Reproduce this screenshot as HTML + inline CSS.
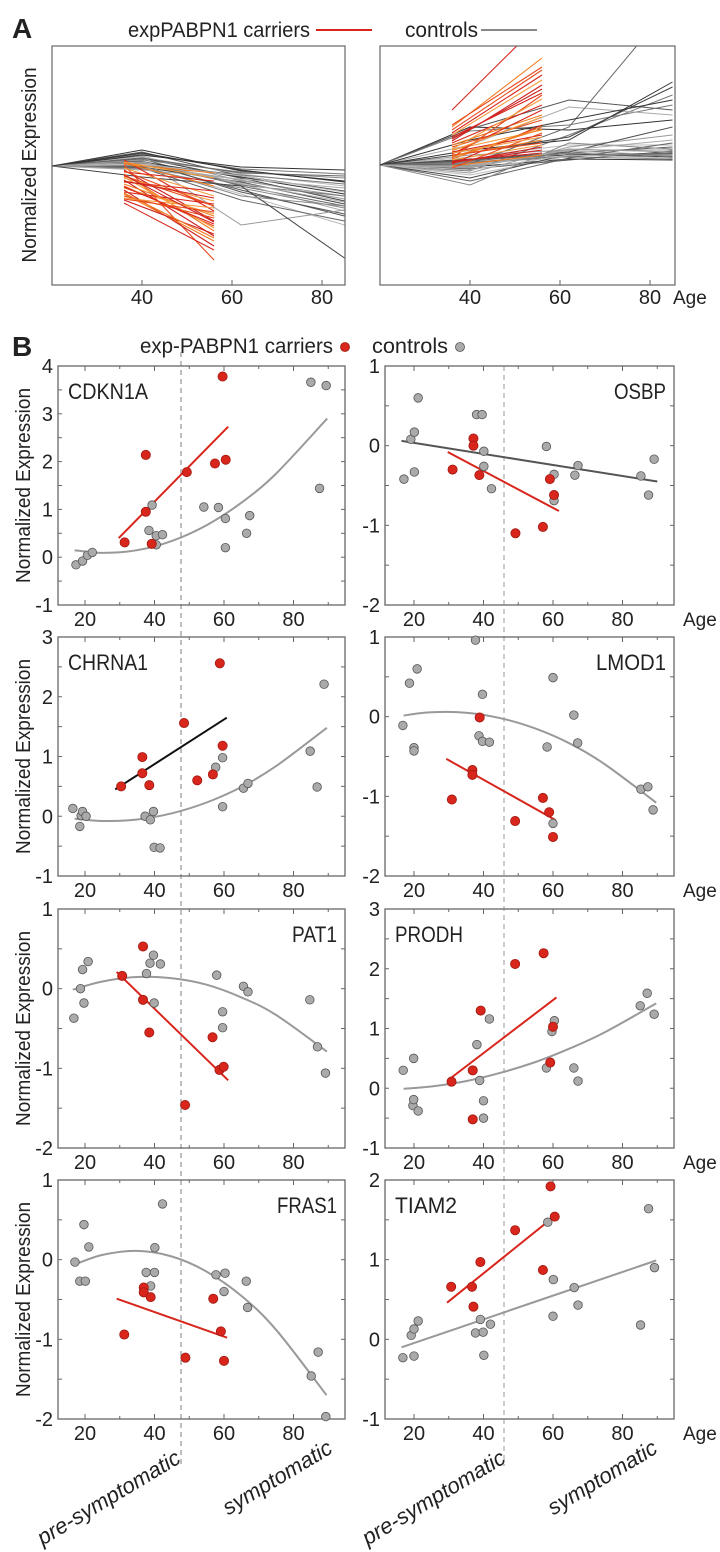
<!DOCTYPE html>
<html><head><meta charset="utf-8"><title>expPABPN1 expression figure</title>
<style>
html,body{margin:0;padding:0;background:#fff;}
svg{display:block;}
text{font-family:"Liberation Sans Narrow","Liberation Sans",sans-serif;fill:#222;}
</style></head>
<body>
<svg id="fig" width="720" height="1552" viewBox="0 0 720 1552" xmlns="http://www.w3.org/2000/svg">
<defs>
<clipPath id="clipAL"><rect x="52" y="46" width="293" height="239"/></clipPath>
<clipPath id="clipAR"><rect x="380" y="46" width="295" height="239"/></clipPath>
</defs>
<text x="12" y="38" font-size="28" font-weight="bold" style="font-family:'Liberation Sans',sans-serif">A</text>
<text x="128" y="37" font-size="21" textLength="182" lengthAdjust="spacingAndGlyphs">expPABPN1 carriers</text>
<line x1="316" y1="30" x2="372" y2="30" stroke="#d8261c" stroke-width="2"/>
<text x="405" y="37" font-size="21" textLength="73" lengthAdjust="spacingAndGlyphs">controls</text>
<line x1="481" y1="30" x2="537" y2="30" stroke="#888" stroke-width="2"/>
<text transform="translate(36,165) rotate(-90)" text-anchor="middle" font-size="20" textLength="195" lengthAdjust="spacingAndGlyphs" style="font-family:'Liberation Sans',sans-serif">Normalized Expression</text>
<text x="12" y="356" font-size="28" font-weight="bold" style="font-family:'Liberation Sans',sans-serif">B</text>
<text x="140" y="353" font-size="21" textLength="193" lengthAdjust="spacingAndGlyphs">exp-PABPN1 carriers</text>
<circle cx="345" cy="347" r="4.5" fill="#d8261c" stroke="#a01810" stroke-width="0.8"/>
<text x="372" y="353" font-size="21" textLength="76" lengthAdjust="spacingAndGlyphs">controls</text>
<circle cx="460" cy="347" r="4.5" fill="#aaa" stroke="#555" stroke-width="0.8"/>
</svg>
<script>
// ---------- Panel A data (expression units; ages) ----------
const aCtrlAges=[20,40,62,85];
const aCarAges=[36,56];
const aLeftCtrl40=[1.6,1.4,1.2,1.0,0.9,0.8,0.7,0.6,0.5,0.4,0.3,0.2,0.1,0,-0.1,-0.2,-0.3,-0.4,1.1,0.5,0.3,0.6,0.2,-1.1,0.8,0.0,0.4,1.3];
const aLeftCtrl62=[-0.5,-1.0,-0.3,-1.5,-0.8,-1.2,-2.0,-0.6,-1.8,-1.1,-2.4,-0.9,-1.4,-2.8,-1.6,-3.4,-2.2,-1.3,-0.1,-2.6,-1.9,-5.9,-1.0,-2.0,-0.7,-3.0,-1.7,-0.4];
const aLeftCtrl85=[-1.5,-2.5,-0.8,-3.0,-2.0,-3.5,-4.0,-1.2,-4.5,-2.8,-5.0,-1.8,-3.3,-5.9,-3.8,-5.5,-4.2,-2.2,-0.4,-4.8,-3.0,-4.4,-2.6,-9.2,-1.0,-4.0,-3.6,-1.6];
const aLeftCar36=[0.6,0.3,0.1,-0.2,-0.4,-0.6,-0.8,-1.0,-1.2,-1.4,-1.6,-1.8,-2.0,-2.2,-2.4,-2.6,-2.8,-3.0,-3.2,-3.4,-3.7,0.2,-0.5,-1.1,-1.5,-2.1,-2.7,-3.3,0.4,-0.9];
const aLeftCar56=[-4.5,-2.0,-9.4,-3.0,-5.5,-1.5,-6.5,-4.0,-3.5,-7.0,-2.5,-5.0,-6.0,-4.8,-8.0,-3.8,-7.5,-5.2,-4.2,-6.8,-8.4,-0.7,-4.0,-6.2,-3.2,-5.8,-7.2,-4.6,-1.2,-5.6];
const aRightCtrl40=[3.8,3.6,3.4,1.0,0.8,0.6,0.4,0.2,0,-0.2,-0.4,-0.6,-0.8,-1.0,-1.3,-1.6,-2.0,2.0,1.5,0.5,0.3,-0.3,-0.5,1.2,0.1,-0.1,-0.2,2.5];
const aRightCtrl62=[3.5,6.5,4.0,1.5,2.0,1.0,1.2,0.8,1.4,0.6,0.5,3.0,1.8,0.9,1.1,0.7,2.2,5.8,2.5,1.3,0.9,1.6,1.0,2.8,3.8,1.2,1.5,4.5];
const aRightCtrl85=[4.5,5.5,6.0,1.5,2.0,1.2,1.8,0.6,1.0,0.5,1.4,7.0,3.0,1.0,0.8,2.2,1.6,5.0,8.3,3.8,1.1,1.3,0.7,7.8,16.2,0.9,2.5,6.5];
const aRightCar36=[5.5,3.8,3.5,3.0,2.6,2.2,2.0,1.8,1.5,1.3,1.1,0.9,0.7,0.5,0.3,0.1,-0.1,-0.3,1.6,2.4,3.2,0.6,1.0,1.4,0.2,2.8,0.8,4.0,1.2,0.4];
const aRightCar56=[14.4,10.7,9.5,8.5,7.6,6.0,5.0,4.5,3.5,3.0,5.5,2.5,7.0,2.0,1.5,4.0,1.0,3.2,6.6,8.0,9.0,3.8,2.2,4.8,1.8,7.2,3.6,9.8,2.8,1.2];
const aXTicks=[40,60,80];

// ---------- Panel B data ----------
const cdkn1aCtrlAge=[17.4,19.3,20.7,22.1,38.4,39.3,40.5,40.5,42.3,54.2,58.4,60.4,60.4,66.5,67.4,85,89.4,87.5];
const cdkn1aCtrlVal=[-0.16,-0.08,0.04,0.10,0.56,1.09,0.45,0.26,0.47,1.05,1.04,0.81,0.20,0.50,0.87,3.66,3.59,1.44];
const cdkn1aCarAge=[31.4,37.5,37.5,39.2,49.3,57.4,60.5,59.6];
const cdkn1aCarVal=[0.31,2.14,0.95,0.28,1.78,1.96,2.04,3.78];
const cdkn1aCarFitAge=[29.7,61.2];
const cdkn1aCarFitVal=[0.40,2.73];
const cdkn1aCtrlFitAge=[17,25,35,45,55,65,75,89.7];
const cdkn1aCtrlFitVal=[0.146,0.09,0.146,0.34,0.67,1.14,1.75,2.90];

const osbpCtrlAge=[17.1,19.1,20.1,20.1,21.2,38,39.6,40.1,40.1,42.3,58.1,60.3,60.3,66.3,67.2,85.3,87.5,89.1];
const osbpCtrlVal=[-0.42,0.08,0.17,-0.33,0.60,0.39,0.39,-0.07,-0.26,-0.54,-0.01,-0.36,-0.69,-0.37,-0.25,-0.38,-0.62,-0.17];
const osbpCarAge=[31.1,37.1,37.1,38.8,49.2,57.1,59.1,60.3];
const osbpCarVal=[-0.30,0.09,0.0,-0.37,-1.10,-1.02,-0.42,-0.62];
const osbpCarFitAge=[29.7,61.7];
const osbpCarFitVal=[-0.08,-0.82];
const osbpCtrlFitAge=[16.4,90];
const osbpCtrlFitVal=[0.06,-0.45];

const chrna1CtrlAge=[16.5,18.5,18.9,19.3,20.3,37.3,38.8,39.7,39.9,41.6,57.6,59.6,59.6,65.6,66.9,84.8,86.8,88.8];
const chrna1CtrlVal=[0.13,-0.17,0.01,0.08,0.0,0.0,-0.06,0.08,-0.52,-0.53,0.82,0.98,0.16,0.47,0.55,1.09,0.49,2.21];
const chrna1CarAge=[30.4,36.5,36.5,38.5,48.5,52.3,56.8,59.6,58.8];
const chrna1CarVal=[0.50,0.99,0.72,0.52,1.56,0.60,0.70,1.18,2.56];
const chrna1CarFitAge=[28.7,60.8];
const chrna1CarFitVal=[0.45,1.65];
const chrna1CtrlFitAge=[17,25,35,45,55,65,75,89.6];
const chrna1CtrlFitVal=[-0.04,-0.08,-0.055,0.05,0.23,0.49,0.84,1.48];

const lmod1CtrlAge=[16.8,18.7,20,20,20.9,37.7,38.7,39.7,39.7,41.7,58.3,60,60,66,67.1,85.3,87.3,88.8];
const lmod1CtrlVal=[-0.11,0.42,-0.39,-0.43,0.60,0.96,-0.24,0.28,-0.31,-0.32,-0.38,0.49,-1.34,0.02,-0.33,-0.91,-0.88,-1.17];
const lmod1CarAge=[30.9,36.8,36.8,38.9,49.1,57.1,58.9,60];
const lmod1CarVal=[-1.04,-0.67,-0.73,-0.01,-1.31,-1.02,-1.20,-1.51];
const lmod1CarFitAge=[29.3,60.8];
const lmod1CarFitVal=[-0.53,-1.30];
const lmod1CtrlFitAge=[17,25,35,45,55,65,75,89.7];
const lmod1CtrlFitVal=[0.015,0.055,0.05,-0.02,-0.15,-0.34,-0.60,-1.08];

const pat1CtrlAge=[16.8,18.7,19.3,19.7,20.9,37.7,38.7,39.7,39.9,41.7,57.9,59.6,59.6,65.6,66.9,84.7,86.9,89.2];
const pat1CtrlVal=[-0.37,0.0,0.24,-0.18,0.34,0.19,0.32,0.42,-0.18,0.31,0.17,-0.29,-0.49,0.03,-0.04,-0.14,-0.73,-1.06];
const pat1CarAge=[30.7,36.7,36.7,38.5,48.8,56.7,58.7,59.9];
const pat1CarVal=[0.16,0.53,-0.14,-0.55,-1.46,-0.61,-1.02,-0.98];
const pat1CarFitAge=[29.1,61.2];
const pat1CarFitVal=[0.21,-1.15];
const pat1CtrlFitAge=[16.5,25,35,45,55,65,75,89.6];
const pat1CtrlFitVal=[-0.013,0.09,0.147,0.13,0.05,-0.11,-0.33,-0.79];

const prodhCtrlAge=[16.9,19.7,19.9,19.9,21.2,38.1,38.9,40,40,41.7,58.1,59.7,60.4,66,67.2,85.1,87.1,89.1];
const prodhCtrlVal=[0.30,-0.29,0.50,-0.19,-0.38,0.73,0.13,-0.21,-0.50,1.16,0.34,0.95,1.13,0.34,0.12,1.38,1.59,1.24];
const prodhCarAge=[30.8,36.9,36.9,39.2,49.1,57.3,59.2,60];
const prodhCarVal=[0.11,0.30,-0.52,1.30,2.08,2.26,0.43,1.03];
const prodhCarFitAge=[29.9,61];
const prodhCarFitVal=[0.14,1.52];
const prodhCtrlFitAge=[17,25,35,45,55,65,75,89.7];
const prodhCtrlFitVal=[-0.009,0.03,0.12,0.26,0.44,0.67,0.94,1.42];

const fras1CtrlAge=[17.1,18.5,19.7,20.1,21.1,37.6,38.9,40,40.1,42.3,57.7,60,60.3,66.4,66.8,85.1,87.1,89.3];
const fras1CtrlVal=[-0.03,-0.27,0.44,-0.27,0.16,-0.16,-0.33,-0.16,0.15,0.70,-0.19,-0.40,-0.17,-0.27,-0.60,-1.46,-1.16,-1.97];
const fras1CarAge=[31.3,36.9,36.9,38.9,48.9,56.9,59.1,60];
const fras1CarVal=[-0.94,-0.35,-0.41,-0.47,-1.23,-0.49,-0.90,-1.27];
const fras1CarFitAge=[29.1,60.9];
const fras1CarFitVal=[-0.49,-0.98];
const fras1CtrlFitAge=[16.5,25,35,45,55,65,75,89.5];
const fras1CtrlFitVal=[-0.07,0.06,0.11,0.04,-0.15,-0.455,-0.88,-1.70];

const tiam2CtrlAge=[16.8,19.2,20,20,21.2,37.7,39.1,39.9,40.1,42,58.5,60.1,60,66.1,67.2,85.2,87.5,89.2];
const tiam2CtrlVal=[-0.23,0.05,-0.21,0.13,0.23,0.08,0.25,0.09,-0.20,0.19,1.47,0.75,0.29,0.65,0.43,0.18,1.64,0.90];
const tiam2CarAge=[30.7,36.7,37.1,39.1,49.1,57.1,59.3,60.5];
const tiam2CarVal=[0.66,0.66,0.41,0.97,1.37,0.87,1.92,1.54];
const tiam2CarFitAge=[29.5,60];
const tiam2CarFitVal=[0.46,1.53];
const tiam2CtrlFitAge=[16.4,89.7];
const tiam2CtrlFitVal=[-0.10,0.99];

const bXTickLabels=[20,40,60,80];

const NS='http://www.w3.org/2000/svg';
const svg=document.getElementById('fig');
function mk(tag,attrs,parent){const e=document.createElementNS(NS,tag);for(const k in attrs)e.setAttribute(k,attrs[k]);(parent||svg).appendChild(e);return e;}

// ---------- Panel A drawing ----------
function drawA(side,x20,zeroY,clipId,ctrl40,ctrl62,ctrl85,car36,car56){
  const ppy=4.5, ppu=10;
  const sx=a=>x20+(a-20)*ppy;
  const sy=v=>zeroY-v*ppu;
  const x0=side==='left'?52:380, x1=side==='left'?345:675;
  const g=mk('g',{'clip-path':'url(#'+clipId+')'});
  
  
  const shades=['#333','#555','#777','#999','#bbb','#444','#666','#888','#aaa'];
  for(let i=0;i<ctrl40.length;i++){
    const vals=[0,ctrl40[i],ctrl62[i],ctrl85[i]];
    const pts=aCtrlAges.map((a,j)=>sx(a).toFixed(1)+','+sy(vals[j]).toFixed(1)).join(' ');
    const p=mk('polyline',{points:pts,fill:'none',stroke:shades[i%shades.length],'stroke-width':1},g);
    
    
  }
  const reds=['#d8261c','#f07a20','#e84a1c','#f59a3c','#cc2020'];
  for(let i=0;i<car36.length;i++){
    const l=mk('line',{x1:sx(aCarAges[0]),y1:sy(car36[i]),x2:sx(aCarAges[1]),y2:sy(car56[i]),stroke:reds[i%reds.length],'stroke-width':1.1},g);
    
    
  }
  const fr=mk('rect',{x:x0,y:46,width:x1-x0,height:239,fill:'none',stroke:'#666','stroke-width':1.2});
  
  
  aXTicks.forEach(t=>{
    const tk=mk('line',{x1:sx(t),y1:285,x2:sx(t),y2:280,stroke:'#666'});
    
    
    const tl=mk('text',{x:sx(t),y:304,'text-anchor':'middle','font-size':20});
    tl.textContent=t;
    
    
  });
}
drawA('left',52,166,'clipAL',aLeftCtrl40,aLeftCtrl62,aLeftCtrl85,aLeftCar36,aLeftCar56);
drawA('right',380,165,'clipAR',aRightCtrl40,aRightCtrl62,aRightCtrl85,aRightCar36,aRightCar56);
const ageA=mk('text',{x:673,y:304,'font-size':19});
ageA.textContent='Age';



// ---------- Panel B drawing ----------
const cols=[{x0:58,x1:345,age20:85},{x0:385,x1:674,age20:414}];
const rowTops=[366,637,909,1180];
const PH=239, PPY=3.475;

const d1=mk('line',{x1:181,y1:352,x2:181,y2:1466,stroke:'#aaa','stroke-width':1.5,'stroke-dasharray':'5,4'});


const d2=mk('line',{x1:504,y1:366,x2:504,y2:1466,stroke:'#bbb','stroke-width':1.5,'stroke-dasharray':'5,4'});



function catmull(pts){
  let d='M'+pts[0][0].toFixed(1)+','+pts[0][1].toFixed(1);
  for(let i=0;i<pts.length-1;i++){
    const p0=pts[i-1]||pts[i],p1=pts[i],p2=pts[i+1],p3=pts[i+2]||p2;
    const c1=[p1[0]+(p2[0]-p0[0])/6,p1[1]+(p2[1]-p0[1])/6];
    const c2=[p2[0]-(p3[0]-p1[0])/6,p2[1]-(p3[1]-p1[1])/6];
    d+=' C'+c1[0].toFixed(1)+','+c1[1].toFixed(1)+' '+c2[0].toFixed(1)+','+c2[1].toFixed(1)+' '+p2[0].toFixed(1)+','+p2[1].toFixed(1);
  }
  return d;
}

function drawB(name,label,labelW,row,col,ymin,ymax,labelRight,fitColor,ctrlFitColor,cA,cV,rA,rV,rfA,rfV,cfA,cfV){
  const c=cols[col], top=rowTops[row];
  const sx=a=>c.age20+(a-20)*PPY;
  const sy=v=>top+(ymax-v)/(ymax-ymin)*PH;
  const g=mk('g',{});
  
  
  const fr=mk('rect',{x:c.x0,y:top,width:c.x1-c.x0,height:PH,fill:'none',stroke:'#666','stroke-width':1.3},g);
  
  
  for(let a=20;a<=90;a+=10){
    const len=(a%20===0)?5:3;
    const t1=mk('line',{x1:sx(a),y1:top+PH,x2:sx(a),y2:top+PH-len,stroke:'#666'},g);
    
    
    const t2=mk('line',{x1:sx(a),y1:top,x2:sx(a),y2:top+len,stroke:'#666'},g);
    
    
  }
  bXTickLabels.forEach(t=>{
    const tl=mk('text',{x:sx(t),y:top+PH+21,'text-anchor':'middle','font-size':20},g);
    tl.textContent=t;
    
    
  });
  for(let v=ymin;v<=ymax+1e-9;v+=0.5){
    const t1=mk('line',{x1:c.x0,y1:sy(v),x2:c.x0+4,y2:sy(v),stroke:'#666'},g);
    
    
    const t2=mk('line',{x1:c.x1,y1:sy(v),x2:c.x1-4,y2:sy(v),stroke:'#666'},g);
    
    
    if(Math.abs(v-Math.round(v))<1e-9){
      const yl=mk('text',{x:c.x0-5,y:sy(v)+7,'text-anchor':'end','font-size':20},g);
      yl.textContent=Math.round(v);
      
      
    }
  }
  const gl=mk('text',{x:labelRight?c.x1-8:c.x0+10,y:top+33,'text-anchor':labelRight?'end':'start','font-size':22,textLength:labelW,lengthAdjust:'spacingAndGlyphs'},g);
  gl.textContent=label;
  
  
  const cpts=cfA.map((a,i)=>[sx(a),sy(cfV[i])]);
  const cf=mk('path',{d:catmull(cpts),fill:'none',stroke:ctrlFitColor,'stroke-width':2},g);
  
  
  const rf=mk('line',{x1:sx(rfA[0]),y1:sy(rfV[0]),x2:sx(rfA[1]),y2:sy(rfV[1]),stroke:fitColor,'stroke-width':2},g);
  
  
  cA.forEach((a,i)=>{
    const p=mk('circle',{cx:sx(a),cy:sy(cV[i]),r:4.3,fill:'#aaa',stroke:'#555','stroke-width':0.8},g);
    
    
  });
  rA.forEach((a,i)=>{
    const p=mk('circle',{cx:sx(a),cy:sy(rV[i]),r:4.6,fill:'#d8261c',stroke:'#a01810','stroke-width':0.8},g);
    
    
  });
  if(col===1){
    const ag=mk('text',{x:683,y:top+PH+21,'font-size':19},g);
    ag.textContent='Age';
    
    
  } else {
    const yt=mk('text',{transform:'translate(30,'+(top+PH/2)+') rotate(-90)','text-anchor':'middle','font-size':20,textLength:195,lengthAdjust:'spacingAndGlyphs',style:"font-family:'Liberation Sans',sans-serif"},g);
    yt.textContent='Normalized Expression';
    
    
  }
}
drawB('cdkn1a','CDKN1A',80,0,0,-1,4,false,'#d8261c','#999',cdkn1aCtrlAge,cdkn1aCtrlVal,cdkn1aCarAge,cdkn1aCarVal,cdkn1aCarFitAge,cdkn1aCarFitVal,cdkn1aCtrlFitAge,cdkn1aCtrlFitVal);
drawB('osbp','OSBP',52,0,1,-2,1,true,'#d8261c','#555',osbpCtrlAge,osbpCtrlVal,osbpCarAge,osbpCarVal,osbpCarFitAge,osbpCarFitVal,osbpCtrlFitAge,osbpCtrlFitVal);
drawB('chrna1','CHRNA1',80,1,0,-1,3,false,'#111','#999',chrna1CtrlAge,chrna1CtrlVal,chrna1CarAge,chrna1CarVal,chrna1CarFitAge,chrna1CarFitVal,chrna1CtrlFitAge,chrna1CtrlFitVal);
drawB('lmod1','LMOD1',70,1,1,-2,1,true,'#d8261c','#999',lmod1CtrlAge,lmod1CtrlVal,lmod1CarAge,lmod1CarVal,lmod1CarFitAge,lmod1CarFitVal,lmod1CtrlFitAge,lmod1CtrlFitVal);
drawB('pat1','PAT1',45,2,0,-2,1,true,'#d8261c','#999',pat1CtrlAge,pat1CtrlVal,pat1CarAge,pat1CarVal,pat1CarFitAge,pat1CarFitVal,pat1CtrlFitAge,pat1CtrlFitVal);
drawB('prodh','PRODH',68,2,1,-1,3,false,'#d8261c','#999',prodhCtrlAge,prodhCtrlVal,prodhCarAge,prodhCarVal,prodhCarFitAge,prodhCarFitVal,prodhCtrlFitAge,prodhCtrlFitVal);
drawB('fras1','FRAS1',60,3,0,-2,1,true,'#d8261c','#999',fras1CtrlAge,fras1CtrlVal,fras1CarAge,fras1CarVal,fras1CarFitAge,fras1CarFitVal,fras1CtrlFitAge,fras1CtrlFitVal);
drawB('tiam2','TIAM2',62,3,1,-1,2,false,'#d8261c','#999',tiam2CtrlAge,tiam2CtrlVal,tiam2CarAge,tiam2CarVal,tiam2CarFitAge,tiam2CarFitVal,tiam2CtrlFitAge,tiam2CtrlFitVal);

[0,325].forEach((dx,i)=>{
  const a=mk('text',{transform:'translate('+(182+dx)+',1462) rotate(-31)','text-anchor':'end','font-size':22,'font-style':'italic'});
  a.textContent='pre-symptomatic';
  
  
  const b=mk('text',{transform:'translate('+(334+dx)+',1452) rotate(-31)','text-anchor':'end','font-size':22,'font-style':'italic'});
  b.textContent='symptomatic';
  
  
});
</script>
</body></html>
